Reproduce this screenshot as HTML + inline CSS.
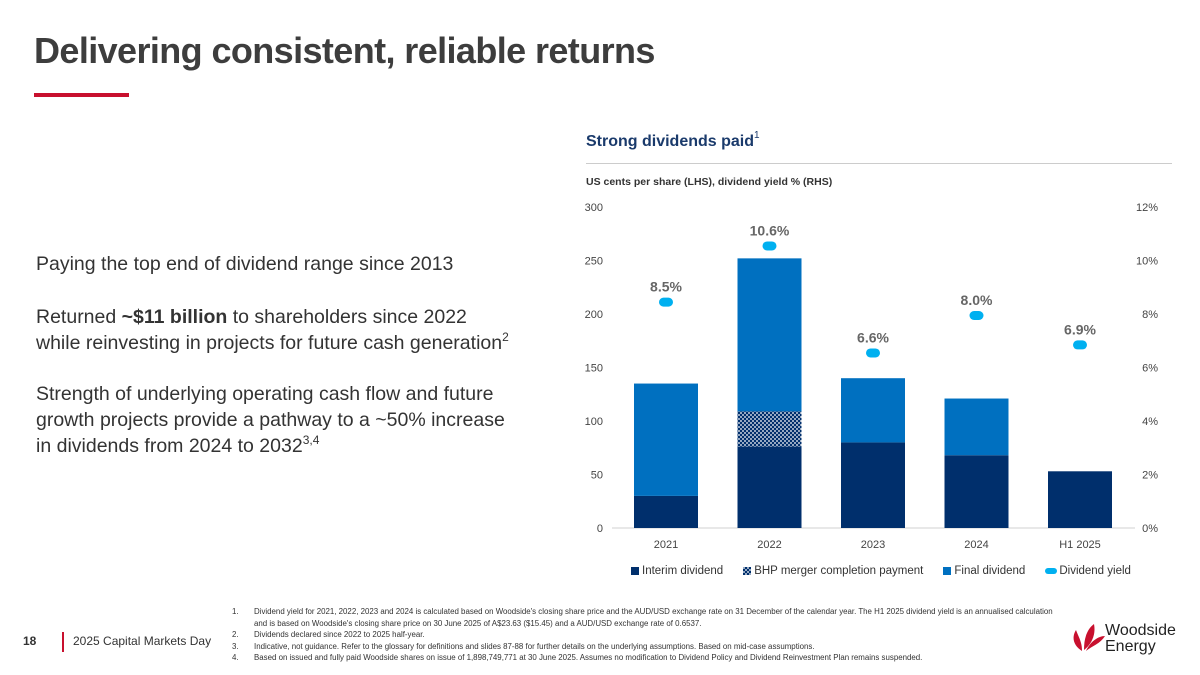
<!DOCTYPE html>
<html><head><meta charset="utf-8"><style>
body{margin:0;width:1200px;height:675px;background:#fff;font-family:"Liberation Sans","DejaVu Sans",sans-serif;position:relative;overflow:hidden;color:#3c3c3c}
.abs{position:absolute}
h1{position:absolute;left:34px;top:30px;margin:0;font-size:36px;font-weight:bold;color:#3d3d3d;letter-spacing:-0.6px}
.body{font-size:19.5px;color:#333;line-height:26px}
sup{line-height:0;vertical-align:8px}
.fn{font-size:7.9px;color:#333;line-height:11.5px}
.fn span.n{flex:none;width:22px}
</style></head><body>
<h1>Delivering consistent, reliable returns</h1>
<div class="abs" style="left:34px;top:93px;width:95px;height:4px;background:#c8102e"></div>

<div class="abs body" style="left:36px;top:251px">Paying the top end of dividend range since 2013</div>
<div class="abs body" style="left:36px;top:304px">Returned <b>~$11 billion</b> to shareholders since 2022<br>while reinvesting in projects for future cash generation<sup style="font-size:12px">2</sup></div>
<div class="abs body" style="left:36px;top:381px">Strength of underlying operating cash flow and future<br>growth projects provide a pathway to a ~50% increase<br>in dividends from 2024 to 2032<sup style="font-size:12px">3,4</sup></div>

<div class="abs" style="left:586px;top:133px;font-size:16px;font-weight:bold;color:#1a3a6b">Strong dividends paid<sup style="font-size:10px;font-weight:normal">1</sup></div>
<div class="abs" style="left:586px;top:163px;width:586px;height:1px;background:#ccc"></div>
<div class="abs" style="left:586px;top:176px;font-size:10.5px;font-weight:bold;color:#333">US cents per share (LHS), dividend yield % (RHS)</div>

<svg class="abs" style="left:0;top:0" width="1200" height="675" id="chart">
<defs><pattern id="dots" width="4" height="4" patternUnits="userSpaceOnUse"><rect width="4" height="4" fill="#002f6c"/><circle cx="1" cy="1" r="0.9" fill="#fff"/><circle cx="3" cy="3" r="0.9" fill="#fff"/></pattern></defs>
</svg>

<div class="abs" style="left:631px;top:565px;font-size:11.5px;color:#333;display:flex;gap:0;align-items:center;white-space:nowrap">
<span style="display:inline-flex;align-items:center;margin-right:20px"><i style="display:inline-block;width:8px;height:8px;background:#002f6c;margin-right:3px"></i>Interim dividend</span>
<span style="display:inline-flex;align-items:center;margin-right:20px"><svg width="8" height="8" style="margin-right:3px"><rect width="8" height="8" fill="url(#dots)"/></svg>BHP merger completion payment</span>
<span style="display:inline-flex;align-items:center;margin-right:20px"><i style="display:inline-block;width:8px;height:8px;background:#0070c0;margin-right:3px"></i>Final dividend</span>
<span style="display:inline-flex;align-items:center"><i style="display:inline-block;width:12px;height:6px;border-radius:3px;background:#00b0f0;margin-right:2px"></i>Dividend yield</span>
</div>

<div class="abs fn" style="left:232px;top:606px;width:830px">
<div style="display:flex"><span class="n">1.</span><span>Dividend yield for 2021, 2022, 2023 and 2024 is calculated based on Woodside's closing share price and the AUD/USD exchange rate on 31 December of the calendar year. The H1 2025 dividend yield is an annualised calculation and is based on Woodside's closing share price on 30 June 2025 of A$23.63 ($15.45) and a AUD/USD exchange rate of 0.6537.</span></div>
<div style="display:flex"><span class="n">2.</span><span>Dividends declared since 2022 to 2025 half-year.</span></div>
<div style="display:flex"><span class="n">3.</span><span>Indicative, not guidance. Refer to the glossary for definitions and slides 87-88 for further details on the underlying assumptions. Based on mid-case assumptions.</span></div>
<div style="display:flex"><span class="n">4.</span><span>Based on issued and fully paid Woodside shares on issue of 1,898,749,771 at 30 June 2025. Assumes no modification to Dividend Policy and Dividend Reinvestment Plan remains suspended.</span></div>
</div>

<div class="abs" style="left:23px;top:634px;font-size:12px;font-weight:bold;color:#333">18</div>
<div class="abs" style="left:62px;top:632px;width:2px;height:20px;background:#c8102e"></div>
<div class="abs" style="left:73px;top:634px;font-size:12px;color:#333">2025 Capital Markets Day</div>

<svg class="abs" style="left:1070px;top:622px" width="36" height="30" viewBox="0 0 36 30">
<path d="M12 29 C4 24 1 16 6 8 C9 16 12 20 12 29Z" fill="#c8102e"/>
<path d="M14 28 C14 18 16 8 24 2 C26 12 22 22 14 28Z" fill="#c8102e"/>
<path d="M16 29 C22 24 30 22 35 14 C28 14 20 20 16 29Z" fill="#c8102e"/>
</svg>
<div class="abs" style="left:1105px;top:623px;font-size:16px;line-height:16px;color:#222">Woodside<br>Energy</div>

<script>
const categories=["2021","2022","2023","2024","H1 2025"];
const interim=[30,76,80,68,53];
const bhp=[0,33,0,0,0];
const finalDiv=[105,143,60,53,0];
const yieldPct=[8.5,10.6,6.6,8.0,6.9];
const yieldLabels=["8.5%","10.6%","6.6%","8.0%","6.9%"];
const leftTicks=[0,50,100,150,200,250,300];
const rightTicks=["0%","2%","4%","6%","8%","10%","12%"];

const svg=document.getElementById('chart');
const NS='http://www.w3.org/2000/svg';
const y0=528,yTop=207,lMax=300,rMax=12;
const yL=v=>y0-(v/lMax)*(y0-yTop);
const yR=v=>y0-(v/rMax)*(y0-yTop);
const xC=i=>666+i*103.5;
const bw=64;
function mk(t,a){const e=document.createElementNS(NS,t);for(const k in a)e.setAttribute(k,a[k]);svg.appendChild(e);return e;}
const base=mk('line',{x1:612,x2:1135,y1:y0,y2:y0,stroke:'#d0d0d0','stroke-width':1});


leftTicks.forEach((v,i)=>{
 const t=mk('text',{x:603,y:yL(v)+4,'text-anchor':'end','font-size':11,fill:'#444'});t.textContent=v;
 
 
 const r=mk('text',{x:1158,y:yL(v)+4,'text-anchor':'end','font-size':11,fill:'#444'});r.textContent=rightTicks[i];
 
 
});
categories.forEach((c,i)=>{
 const x=xC(i)-bw/2;
 let acc=0;
 [[interim[i],'#002f6c','bar-interim'],[bhp[i],'url(#dots)','bar-bhp'],[finalDiv[i],'#0070c0','bar-final']].forEach(([v,f,n])=>{
  if(v>0){const r=mk('rect',{x:x,y:yL(acc+v),width:bw,height:yL(acc)-yL(acc+v),fill:f});
  
  }
  acc+=v;
 });
 const t=mk('text',{x:xC(i),y:548,'text-anchor':'middle','font-size':11,fill:'#444'});t.textContent=c;
 
 
 const yy=yR(yieldPct[i]);
 const m=mk('rect',{x:xC(i)-7,y:yy-3,width:14,height:9,rx:4.5,fill:'#00b0f0'});
 
 
 const l=mk('text',{x:xC(i),y:yy-9,'text-anchor':'middle','font-size':14,'font-weight':'bold',fill:'#666'});l.textContent=yieldLabels[i];
 
 
});
</script>
</body></html>
